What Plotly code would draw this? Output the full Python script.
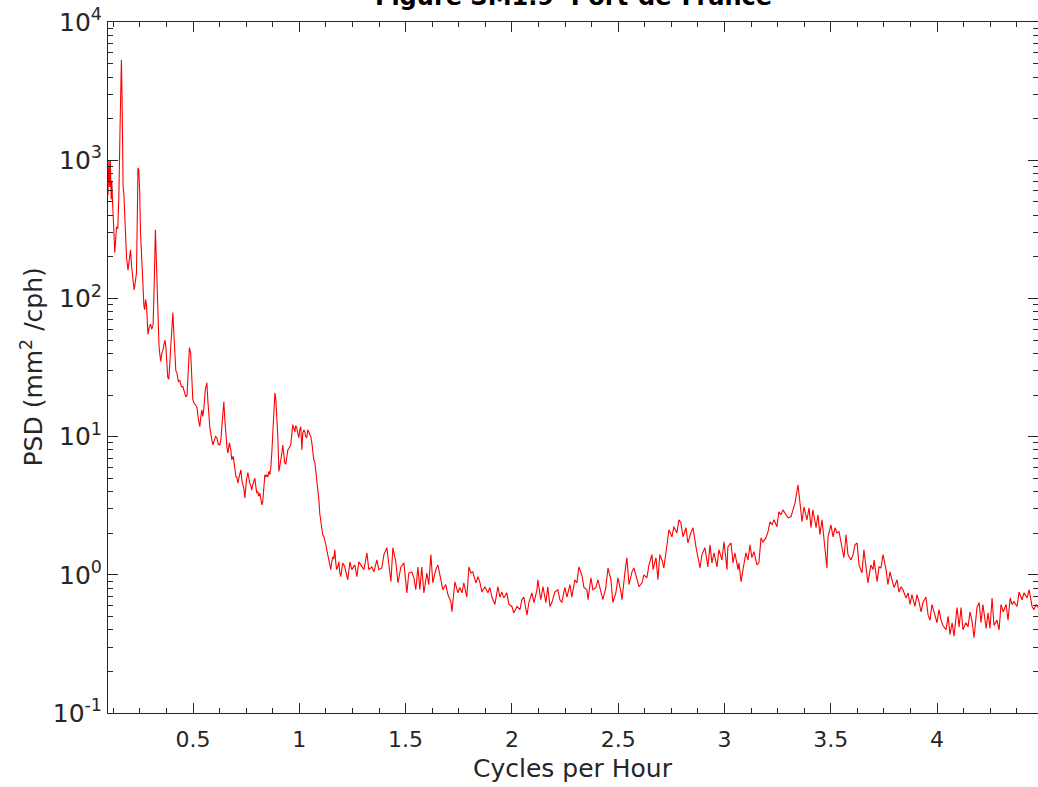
import plotly.graph_objects as go

# ---- data: frequency (cycles per hour) and PSD (mm^2/cph) ----
freq_tidal = [0.100, 0.104, 0.108, 0.111, 0.115, 0.118, 0.122, 0.127, 0.132, 0.137, 0.140, 0.146,
              0.151, 0.156, 0.159, 0.163, 0.166, 0.168, 0.171, 0.175, 0.179, 0.184, 0.187, 0.194,
              0.200, 0.206, 0.211, 0.215, 0.223, 0.228, 0.234, 0.238, 0.241, 0.245, 0.249, 0.253,
              0.257, 0.265, 0.269, 0.273, 0.277, 0.281, 0.284, 0.288, 0.294, 0.300, 0.306, 0.312,
              0.317, 0.320, 0.323, 0.327, 0.331, 0.336, 0.340, 0.345, 0.348, 0.353, 0.358, 0.364,
              0.368, 0.372, 0.377, 0.381, 0.386, 0.391, 0.396, 0.401, 0.405, 0.410, 0.414, 0.419,
              0.424, 0.431, 0.438, 0.445, 0.452, 0.459, 0.466, 0.472, 0.478, 0.483, 0.489, 0.494,
              0.499, 0.505, 0.511, 0.518, 0.525, 0.532, 0.537, 0.541, 0.546, 0.551, 0.558, 0.565,
              0.570, 0.575, 0.579, 0.586, 0.593, 0.600, 0.606, 0.612, 0.619, 0.626, 0.631, 0.636,
              0.641, 0.645, 0.650, 0.655, 0.660, 0.664]
psd_tidal = [560, 1000, 640, 990, 520, 700, 480, 260, 214, 280, 330, 320,
             540, 1500, 4200, 5300, 3000, 1500, 650, 560, 400, 265, 200, 160,
             200, 225, 170, 153, 115, 130, 153, 400, 880, 850, 600, 300,
             205, 93, 88, 83, 98, 90, 70, 55, 62, 65, 60, 64,
             120, 250, 314, 200, 121, 60, 45, 38, 35, 40, 42, 47,
             50, 45, 30, 27, 26, 35, 55, 75, 79, 55, 36, 30,
             29, 25, 25.5, 23, 23, 21, 19.4, 20, 28, 44, 40, 24,
             18.5, 17.5, 16.8, 16.4, 13.5, 11.8, 14, 15.6, 14, 16, 22, 24.5,
             18, 12.5, 11.6, 10, 8.7, 9.4, 10, 9.8, 8.8, 8.7, 9.5, 12,
             16, 17.9, 13, 9.5, 8.3, 7.6]

freq_one = [0.671, 0.678, 0.682, 0.689, 0.696, 0.702, 0.706, 0.711, 0.718, 0.725, 0.730, 0.734,
            0.739, 0.744, 0.751, 0.758, 0.762, 0.767, 0.772, 0.776, 0.783, 0.791, 0.795, 0.800,
            0.805, 0.809, 0.814, 0.819, 0.824, 0.828, 0.833, 0.838, 0.842, 0.847, 0.852, 0.857,
            0.861, 0.866, 0.871, 0.875, 0.880, 0.885, 0.889, 0.894, 0.899, 0.904, 0.909, 0.913,
            0.918, 0.922, 0.927, 0.931, 0.936, 0.941, 0.946, 0.950, 0.955, 0.960, 0.964, 0.969,
            0.974, 0.979, 0.983, 0.988, 0.993, 0.998, 1.002, 1.007, 1.012, 1.016, 1.021, 1.026,
            1.030, 1.035, 1.040, 1.045, 1.050, 1.054, 1.059, 1.064, 1.068, 1.073, 1.078, 1.082,
            1.087, 1.092, 1.096, 1.101, 1.106, 1.110, 1.115, 1.120, 1.125, 1.129, 1.134, 1.139,
            1.143, 1.148, 1.153, 1.158, 1.162, 1.167, 1.172, 1.176, 1.181, 1.186, 1.190, 1.195,
            1.200, 1.205]
psd_one = [9.0, 8.0, 6.8, 7.2, 6.0, 5.1, 5.1, 4.6, 5.2, 5.75, 4.8, 4.5,
           4.2, 3.6, 4.8, 5.5, 4.9, 4.6, 4.4, 4.1, 4.6, 5.0, 4.4, 3.9,
           4.0, 3.7, 3.9, 3.5, 3.2, 3.4, 4.6, 5.3, 5.1, 5.3, 5.1, 5.6,
           5.3, 6.0, 7.8, 10.6, 14, 20.7, 19, 14, 10.0, 5.6, 6.5, 6.8,
           7.6, 8.7, 7.5, 6.5, 6.3, 7.2, 8.0, 8.2, 8.4, 8.8, 10.5, 12.2,
           11.5, 10.8, 12.0, 11.6, 10.5, 9.8, 11.2, 11.8, 8.0, 10.5, 11.2, 10.8,
           10.0, 9.8, 11.2, 10.8, 10.4, 10.0, 9.0, 7.6, 6.8, 6.5, 5.6, 4.8,
           4.3, 3.5, 2.8, 2.4, 2.0, 1.95, 1.9, 1.8, 1.65, 1.52, 1.40, 1.28,
           1.15, 1.09, 1.25, 1.35, 1.30, 1.52, 1.20, 1.09, 1.15, 1.24, 1.05, 0.97,
           1.10, 1.22]

freq_mid = [1.214, 1.228, 1.238, 1.247, 1.261, 1.271, 1.280, 1.294, 1.304, 1.318, 1.327, 1.341,
            1.351, 1.365, 1.374, 1.388, 1.398, 1.412, 1.421, 1.431, 1.440, 1.454, 1.464, 1.478,
            1.492, 1.506, 1.515, 1.529, 1.539, 1.548, 1.558, 1.567, 1.576, 1.586, 1.600, 1.609,
            1.619, 1.628, 1.642, 1.652, 1.666, 1.675, 1.689, 1.699, 1.713, 1.718, 1.732, 1.746,
            1.755, 1.765, 1.774, 1.788, 1.798, 1.807, 1.816, 1.831, 1.840, 1.849, 1.859, 1.873,
            1.887, 1.896, 1.906, 1.920, 1.934, 1.944, 1.953, 1.962, 1.976, 1.986, 2.000, 2.009,
            2.024, 2.038, 2.047, 2.056, 2.071, 2.080, 2.094, 2.104, 2.118, 2.122, 2.136, 2.146,
            2.160, 2.169, 2.179, 2.188, 2.202, 2.216, 2.226, 2.235, 2.249, 2.259, 2.273, 2.282,
            2.296, 2.306, 2.315, 2.329, 2.339, 2.353, 2.358, 2.372, 2.381, 2.395, 2.405, 2.419,
            2.428, 2.442, 2.452, 2.466, 2.475, 2.489, 2.499, 2.513, 2.518, 2.532, 2.541, 2.551,
            2.565, 2.574, 2.588, 2.598, 2.612, 2.621, 2.635, 2.645, 2.659, 2.664, 2.678, 2.687,
            2.696, 2.706, 2.715, 2.729, 2.739, 2.753, 2.762, 2.776, 2.786, 2.795, 2.805, 2.819,
            2.828, 2.842, 2.852, 2.866, 2.875, 2.885, 2.894, 2.908]
psd_mid = [1.14, 0.92, 1.24, 1.09, 1.18, 0.97, 1.24, 1.14, 1.09, 1.44, 1.09, 1.14,
           1.05, 1.28, 1.09, 1.12, 1.40, 1.57, 1.22, 0.89, 1.57, 1.24, 0.875, 1.14,
           1.22, 0.74, 1.03, 1.05, 0.95, 0.78, 1.14, 0.78, 1.14, 0.74, 1.03, 0.85,
           1.40, 0.875, 1.09, 1.18, 0.92, 0.78, 0.85, 0.72, 0.64, 0.54, 0.89, 0.74,
           0.81, 0.74, 0.875, 0.69, 1.14, 1.03, 1.05, 0.875, 0.97, 0.89, 0.75, 0.82,
           0.74, 0.81, 0.69, 0.61, 0.82, 0.69, 0.75, 0.68, 0.74, 0.61, 0.59, 0.53,
           0.59, 0.56, 0.66, 0.69, 0.51, 0.63, 0.74, 0.63, 0.78, 0.92, 0.66, 0.82,
           0.63, 0.82, 0.59, 0.63, 0.75, 0.78, 0.66, 0.63, 0.81, 0.69, 0.85, 0.69,
           0.92, 0.875, 1.14, 1.00, 0.81, 0.78, 0.66, 0.95, 0.78, 0.81, 0.92, 0.74,
           0.66, 0.81, 1.12, 0.92, 0.63, 0.74, 0.95, 0.75, 0.66, 1.05, 1.33, 0.85,
           1.05, 1.12, 0.92, 0.82, 0.875, 1.00, 0.95, 1.18, 1.40, 1.09, 1.33, 0.92,
           1.40, 1.28, 1.12, 1.65, 2.12, 1.88, 2.23, 2.01, 2.50, 2.38, 1.88, 2.19,
           1.70, 2.01, 2.19, 1.59, 1.33, 1.12, 1.40, 1.57]

freq_high = [2.922, 2.932, 2.941, 2.951, 2.965, 2.974, 2.988, 2.998, 3.012, 3.016, 3.031, 3.040,
             3.049, 3.064, 3.068, 3.078, 3.087, 3.101, 3.111, 3.120, 3.129, 3.139, 3.153, 3.162,
             3.172, 3.181, 3.195, 3.205, 3.214, 3.224, 3.233, 3.247, 3.256, 3.266, 3.275, 3.289,
             3.299, 3.313, 3.322, 3.332, 3.346, 3.355, 3.365, 3.374, 3.388, 3.398, 3.407, 3.416,
             3.431, 3.440, 3.449, 3.459, 3.468, 3.482, 3.487, 3.501, 3.511, 3.520, 3.529, 3.539,
             3.553, 3.562, 3.572, 3.581, 3.595, 3.605, 3.614, 3.624, 3.633, 3.647, 3.656, 3.666,
             3.675, 3.689, 3.699]
psd_high = [1.14, 1.65, 1.22, 1.44, 1.14, 1.52, 1.28, 1.73, 1.09, 1.59, 1.70, 1.22,
            1.44, 1.09, 1.22, 0.89, 1.09, 1.44, 1.28, 1.65, 1.33, 1.47, 1.18, 1.22,
            1.85, 1.73, 1.85, 2.05, 2.42, 2.30, 2.50, 2.23, 2.86, 2.72, 2.95, 2.72,
            2.58, 2.63, 2.95, 3.32, 4.48, 3.37, 2.42, 3.10, 2.50, 3.05, 2.19, 2.95,
            2.19, 2.72, 1.95, 2.50, 1.88, 1.12, 1.88, 2.30, 1.88, 2.19, 2.01, 2.05,
            1.57, 1.33, 1.95, 1.40, 1.28, 1.40, 1.65, 1.70, 1.18, 1.03, 1.52, 1.09,
            0.875, 1.18, 1.09]

freq_tail = [3.704, 3.718, 3.727, 3.736, 3.746, 3.760, 3.769, 3.779, 3.788, 3.798, 3.812, 3.821,
             3.831, 3.840, 3.854, 3.864, 3.873, 3.882, 3.896, 3.906, 3.915, 3.925, 3.934, 3.948,
             3.958, 3.967, 3.976, 3.986, 4.000, 4.009, 4.019, 4.028, 4.042, 4.052, 4.061, 4.071,
             4.080, 4.094, 4.104, 4.113, 4.122, 4.136, 4.146, 4.155, 4.165, 4.174, 4.188, 4.198,
             4.207, 4.216, 4.231, 4.240, 4.249, 4.259, 4.268, 4.282, 4.292, 4.301, 4.311, 4.325,
             4.334, 4.344, 4.353, 4.362, 4.376, 4.386, 4.400, 4.409, 4.424, 4.433, 4.447, 4.456,
             4.466, 4.475]
psd_tail = [1.28, 0.89, 1.14, 1.12, 1.40, 1.09, 0.85, 1.05, 0.92, 0.81, 0.92, 0.75,
            0.82, 0.78, 0.68, 0.74, 0.61, 0.72, 0.59, 0.72, 0.64, 0.54, 0.63, 0.69,
            0.51, 0.47, 0.61, 0.53, 0.45, 0.56, 0.47, 0.43, 0.40, 0.50, 0.37, 0.45,
            0.36, 0.58, 0.42, 0.58, 0.40, 0.45, 0.42, 0.54, 0.46, 0.35, 0.58, 0.63,
            0.45, 0.61, 0.41, 0.53, 0.41, 0.68, 0.43, 0.47, 0.40, 0.61, 0.54, 0.61,
            0.47, 0.68, 0.61, 0.64, 0.59, 0.75, 0.66, 0.74, 0.68, 0.78, 0.59, 0.56,
            0.61, 0.58]

x_tick_vals = [0.5, 1, 1.5, 2, 2.5, 3, 3.5, 4]
x_tick_text = ["0.5", "1", "1.5", "2", "2.5", "3", "3.5", "4"]
y_tick_vals = [0.1, 1, 10, 100, 1000, 10000]
y_tick_text = ["10<sup>-1</sup>", "10<sup>0</sup>", "10<sup>1</sup>",
               "10<sup>2</sup>", "10<sup>3</sup>", "10<sup>4</sup>"]

title_text = "Figure SM1.9  Port-de-France"
x_label = "Cycles per Hour"
y_label = "PSD (mm<sup>2</sup> /cph)"

freq = freq_tidal + freq_one + freq_mid + freq_high + freq_tail
psd = psd_tidal + psd_one + psd_mid + psd_high + psd_tail

FONT = "DejaVu Sans"
AX = "#262626"
TXT = "#262626"

fig = go.Figure()
fig.add_trace(go.Scatter(x=freq, y=psd, mode="lines",
                         line=dict(color="#ff0000", width=1.1), showlegend=False))

fig.update_layout(
    width=1038, height=787,
    margin=dict(l=108, r=0, t=22, b=74),
    paper_bgcolor="white", plot_bgcolor="white",
    font=dict(family=FONT, size=22, color=TXT),
    showlegend=False,
)
fig.update_xaxes(
    range=[0.1, 4.475], tickvals=x_tick_vals, ticktext=x_tick_text,
    ticks="inside", ticklen=10, tickwidth=1, tickcolor=AX,
    showline=True, linecolor=AX, linewidth=1, mirror="ticks",
    showgrid=False, zeroline=False, ticklabelstandoff=7,
    tickfont=dict(family=FONT, size=22, color=TXT),
    minor=dict(ticks="inside", ticklen=5, tickcolor=AX, dtick=0.125, tick0=0, showgrid=False),
)
fig.update_yaxes(
    type="log", range=[-1, 4], tickvals=y_tick_vals, ticktext=y_tick_text,
    ticks="inside", ticklen=10, tickwidth=1, tickcolor=AX,
    showline=True, linecolor=AX, linewidth=1, mirror="ticks",
    showgrid=False, zeroline=False,
    tickfont=dict(family=FONT, size=25, color=TXT),
    minor=dict(ticks="inside", ticklen=5, tickcolor=AX, dtick="D1", showgrid=False),
)

fig.add_annotation(text="<b>" + title_text + "</b>", xref="paper", yref="paper",
                   x=0.5, y=1 + 9 / 691, xanchor="center", yanchor="bottom", showarrow=False,
                   font=dict(family=FONT, size=24, color="#000000"))
fig.add_annotation(text=x_label, xref="paper", yref="paper",
                   x=0.5, y=-55 / 691, xanchor="center", yanchor="middle", showarrow=False,
                   font=dict(family=FONT, size=25, color=TXT))
fig.add_annotation(text=y_label, xref="paper", yref="paper", textangle=-90,
                   x=-76 / 930, y=0.5, xanchor="center", yanchor="middle", showarrow=False,
                   font=dict(family=FONT, size=25, color=TXT))

fig.write_html("out.html")
